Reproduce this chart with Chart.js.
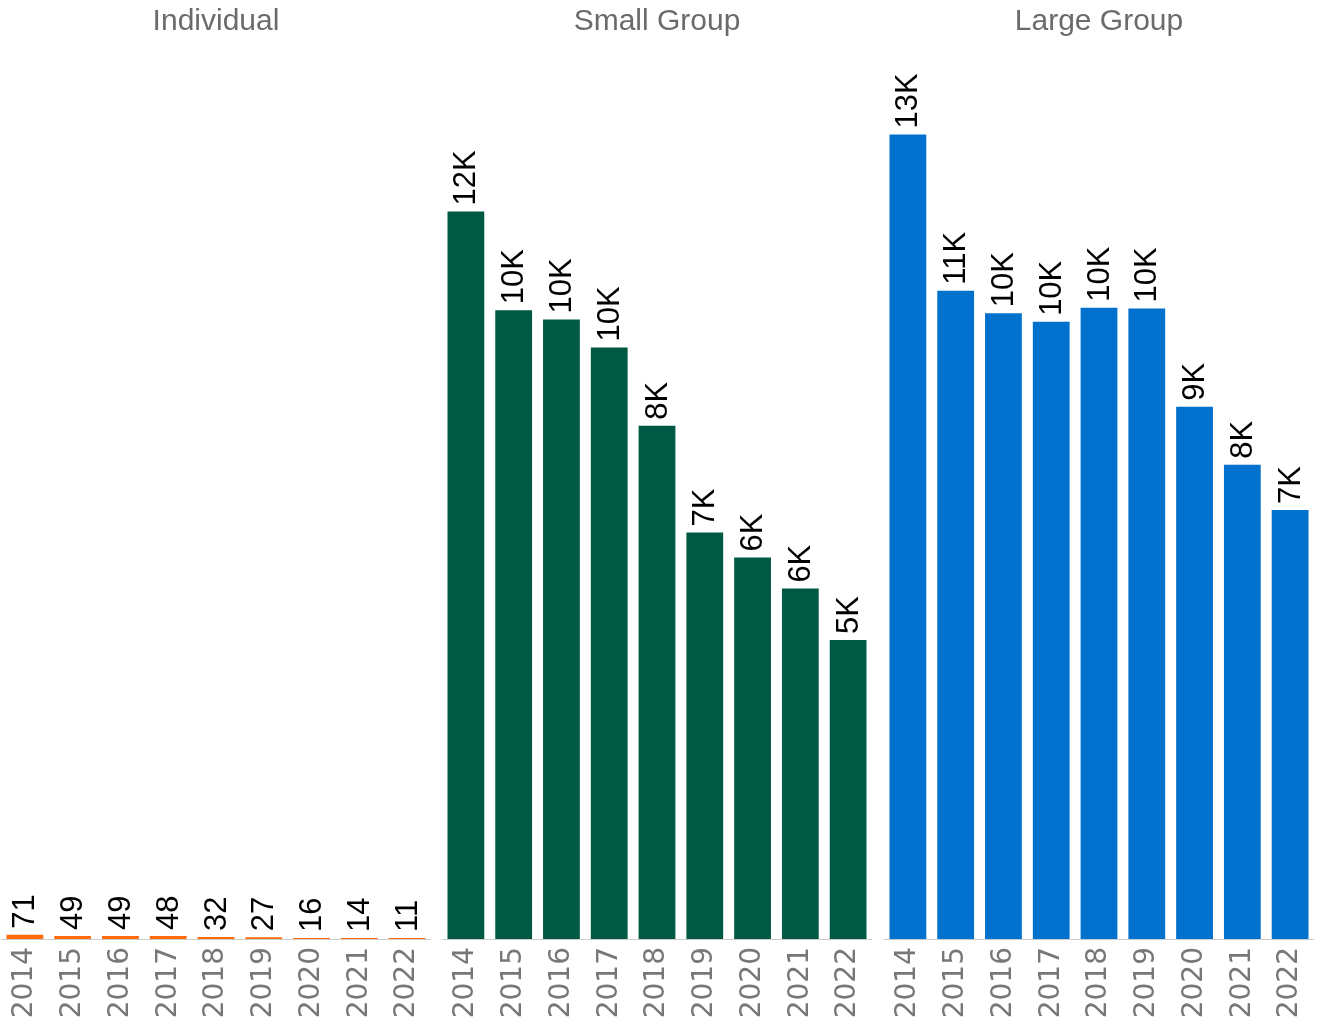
<!DOCTYPE html>
<html lang="en">
<head>
  <meta charset="UTF-8" />
  <title>Enrollment by market segment</title>
  <script src="https://cdn.jsdelivr.net/npm/chart.js"></script>
  <style>
    body {
      margin: 0;
      background: #ffffff;
      width: 1320px;
      height: 1032px;
      overflow: hidden;
      position: relative;
    }
    canvas {
      position: absolute;
      top: 0;
    }
  </style>
</head>
<body>
  <canvas id="panel-0" width="430" height="1032" style="left:1px"></canvas>
  <canvas id="panel-1" width="430" height="1032" style="left:442px"></canvas>
  <canvas id="panel-2" width="430" height="1032" style="left:884px"></canvas>

  <script>
    const YEARS = ["2014", "2015", "2016", "2017", "2018", "2019", "2020", "2021", "2022"];
    const SEGMENTS = ["Individual", "Small Group", "Large Group"];
    const COLORS = ["#ff6a0c", "#005a43", "#0071cd"];

    const individual = [71, 49, 49, 48, 32, 27, 16, 14, 11];
    const smallGroup = [11920, 10300, 10150, 9690, 8410, 6660, 6250, 5740, 4900];
    const largeGroup = [13180, 10620, 10250, 10110, 10340, 10330, 8720, 7770, 7030];

    const SERIES = [individual, smallGroup, largeGroup];
    const Y_MAX = 14400;

    function formatValue(v) {
      return v >= 1000 ? Math.round(v / 1000) + "K" : String(v);
    }

    // labels tournés au-dessus de chaque barre
    const barLabels = {
      id: "barLabels",
      afterDatasetsDraw(chart) {
        const ctx = chart.ctx;
        const meta = chart.getDatasetMeta(0);
        const values = chart.data.datasets[0].data;
        ctx.save();
        ctx.font = "31px 'Liberation Sans', Arial, sans-serif";
        ctx.fillStyle = "#000000";
        ctx.textAlign = "left";
        ctx.textBaseline = "middle";
        meta.data.forEach((bar, i) => {
          ctx.save();
          ctx.translate(bar.x + 1, bar.y - 6);
          ctx.rotate(-Math.PI / 2);
          ctx.fillText(formatValue(values[i]), 0, 0);
          ctx.restore();
        });
        ctx.restore();
      }
    };

    SEGMENTS.forEach((name, idx) => {
      const ctx = document.getElementById("panel-" + idx).getContext("2d");
      new Chart(ctx, {
        type: "bar",
        data: {
          labels: YEARS,
          datasets: [{
            label: name,
            data: SERIES[idx],
            backgroundColor: COLORS[idx],
            barPercentage: 0.77,
            categoryPercentage: 1.0,
            minBarLength: 1
          }]
        },
        options: {
          responsive: false,
          animation: false,
          layout: { padding: 0 },
          plugins: {
            legend: { display: false },
            tooltip: { enabled: false },
            title: {
              display: true,
              text: name,
              color: "#6b6b6b",
              font: { family: "'Liberation Sans', Arial, sans-serif", size: 30, weight: "normal", lineHeight: 1.2 },
              padding: { top: 4, bottom: 20 }
            }
          },
          scales: {
            x: {
              grid: { display: false, drawTicks: false },
              border: { display: true, color: "#cccccc", width: 1 },
              ticks: {
                color: "#777777",
                minRotation: 90,
                maxRotation: 90,
                padding: 8,
                font: { family: "'DejaVu Sans', sans-serif", size: 28 }
              },
              afterFit(scale) {
                scale.height = 93;
                scale.paddingLeft = 0;
                scale.paddingRight = 0;
              }
            },
            y: {
              display: false,
              min: 0,
              max: Y_MAX
            }
          }
        },
        plugins: [barLabels]
      });
    });
  </script>
</body>
</html>
